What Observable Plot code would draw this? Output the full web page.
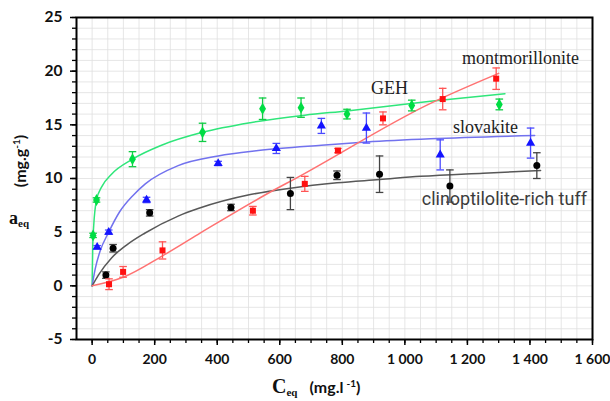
<!DOCTYPE html>
<html><head><meta charset="utf-8">
<script src="https://cdn.jsdelivr.net/npm/d3@7"></script>
<script src="https://cdn.jsdelivr.net/npm/@observablehq/plot@0.6"></script>
<style>body{margin:0;background:#fff}#chart{position:absolute;left:0;top:0}</style>
</head><body><div id="chart"></div>
<script>
// ---- data ----
const xTickValues = [0, 200, 400, 600, 800, 1000, 1200, 1400, 1600];
const yTickValues = [-5, 0, 5, 10, 15, 20, 25];

// measured points: c = Ceq (mg/l), q = aeq (mg/g), e = error bar half-length
const gehPoints = [
  {c: 3, q: 4.7, e: 0.2}, {c: 14, q: 8.0, e: 0.2}, {c: 129, q: 11.8, e: 0.7},
  {c: 353, q: 14.3, e: 0.85}, {c: 545, q: 16.5, e: 1.0}, {c: 668, q: 16.6, e: 0.9},
  {c: 815, q: 16.0, e: 0.45}, {c: 1022, q: 16.8, e: 0.5}, {c: 1302, q: 16.9, e: 0.5}
];
const slovakitePoints = [
  {c: 16, q: 3.6, e: 0.15}, {c: 53, q: 5.0, e: 0.2}, {c: 174, q: 8.0, e: 0.25},
  {c: 403, q: 11.4, e: 0.2}, {c: 589, q: 12.8, e: 0.47}, {c: 733, q: 14.9, e: 0.7},
  {c: 877, q: 14.7, e: 1.4}, {c: 1113, q: 12.2, e: 1.4}, {c: 1402, q: 13.3, e: 1.4}
];
const tuffPoints = [
  {c: 44, q: 1.0, e: 0.3}, {c: 67, q: 3.5, e: 0.35}, {c: 184, q: 6.8, e: 0.3},
  {c: 444, q: 7.3, e: 0.3}, {c: 634, q: 8.6, e: 1.5}, {c: 783, q: 10.3, e: 0.4},
  {c: 919, q: 10.4, e: 1.7}, {c: 1144, q: 9.3, e: 1.5}, {c: 1422, q: 11.2, e: 1.2}
];
const montPoints = [
  {c: 54, q: 0.15, e: 0.5}, {c: 99, q: 1.3, e: 0.5}, {c: 225, q: 3.3, e: 0.8},
  {c: 514, q: 7.0, e: 0.4}, {c: 680, q: 9.5, e: 0.7}, {c: 786, q: 12.6, e: 0.2},
  {c: 930, q: 15.6, e: 0.6}, {c: 1121, q: 17.4, e: 1.0}, {c: 1292, q: 19.3, e: 1.0}
];

// fitted curves
const gehCurve = [
  {c: 0, q: 0}, {c: 2, q: 3.8}, {c: 5, q: 5.6}, {c: 14, q: 8.0}, {c: 30, q: 9.2},
  {c: 62, q: 10.4}, {c: 129, q: 11.8}, {c: 222, q: 13.1}, {c: 353, q: 14.3},
  {c: 506, q: 15.2}, {c: 680, q: 15.9}, {c: 815, q: 16.3}, {c: 1082, q: 17.2}, {c: 1320, q: 17.9}
];
const slovakiteCurve = [
  {c: 0, q: 0}, {c: 10, q: 1.6}, {c: 25, q: 3.2}, {c: 53, q: 5.0}, {c: 88, q: 6.9},
  {c: 130, q: 8.4}, {c: 170, q: 9.5}, {c: 275, q: 11.2}, {c: 403, q: 12.1},
  {c: 531, q: 12.6}, {c: 733, q: 13.1}, {c: 877, q: 13.4}, {c: 1082, q: 13.7}, {c: 1415, q: 14.0}
];
const tuffCurve = [
  {c: 0, q: 0}, {c: 20, q: 1.0}, {c: 62, q: 2.6}, {c: 110, q: 3.8}, {c: 168, q: 4.9},
  {c: 275, q: 6.5}, {c: 339, q: 7.2}, {c: 506, q: 8.5}, {c: 634, q: 9.1}, {c: 783, q: 9.6},
  {c: 919, q: 9.9}, {c: 1050, q: 10.2}, {c: 1250, q: 10.5}, {c: 1434, q: 10.75}
];
const montCurve = [
  {c: 0, q: 0}, {c: 99, q: 0.8}, {c: 225, q: 2.8}, {c: 339, q: 4.8}, {c: 586, q: 9.0},
  {c: 644, q: 9.9}, {c: 1082, q: 17.0}, {c: 1300, q: 19.8}
];

const serifLabels = [
  {text: "montmorillonite", c: 1370, q: 21.2},
  {text: "GEH", c: 951, q: 18.4},
  {text: "slovakite", c: 1258, q: 14.8}
];
const sansLabels = [
  {text: "clinoptilolite-rich tuff", c: 1318, q: 8.1}
];

// ---- styling ----
const series = [
  {pts: gehPoints, curve: gehCurve, dot: "#00dd44", line: "#2fe67a", err: "#10cc44", symbol: "diamond", r: 3.6},
  {pts: slovakitePoints, curve: slovakiteCurve, dot: "#1414ff", line: "#7272ee", err: "#4a4aff", symbol: "triangle", r: 3.4},
  {pts: tuffPoints, curve: tuffCurve, dot: "#000000", line: "#585858", err: "#444444", symbol: "circle", r: 3.5},
  {pts: montPoints, curve: montCurve, dot: "#ff1010", line: "#ff7272", err: "#ff5555", symbol: "square", r: 3.4}
];

const cap = {draw(ctx, size) { const w = Math.sqrt(size / Math.PI); ctx.moveTo(-w, 0); ctx.lineTo(w, 0); }};
const fmtX = d => d >= 1000 ? `${Math.floor(d / 1000)} ${String(d % 1000).padStart(3, "0")}` : `${d}`;
const fmtY = d => String(d);

const marks = [
  Plot.gridX(d3.range(-50, 1601, 50), {stroke: "#e0e0e0", strokeOpacity: 1, strokeWidth: 0.8}),
  Plot.gridY(d3.range(-5, 25.1, 1), {stroke: "#e0e0e0", strokeOpacity: 1, strokeWidth: 0.8}),
  Plot.axisX(d3.range(0, 1601, 50), {tickSize: 4, tickFormat: () => "", strokeWidth: 1.3, label: null}),
  Plot.axisX(xTickValues, {tickSize: 6, tickPadding: 9, tickFormat: fmtX, fontSize: 14, fontWeight: "bold", fontFamily: "Lato", fill: "#111", strokeWidth: 1.5, label: null}),
  Plot.axisY(d3.range(-5, 25.1, 1), {tickSize: 4, tickFormat: () => "", strokeWidth: 1.3, label: null}),
  Plot.axisY(yTickValues, {tickSize: 6, tickPadding: 8, tickFormat: fmtY, fontSize: 15.5, fontWeight: "bold", fontFamily: "Lato", fill: "#111", strokeWidth: 1.5, label: null})
];

for (const s of series) {
  marks.push(Plot.line(s.curve, {x: "c", y: "q", stroke: s.line, strokeWidth: 1.5, curve: "monotone-x"}));
}
for (const s of series) {
  marks.push(
    Plot.ruleX(s.pts, {x: "c", y1: d => d.q - d.e, y2: d => d.q + d.e, stroke: s.err, strokeWidth: 1.3}),
    Plot.dot(s.pts, {x: "c", y: d => d.q + d.e, symbol: cap, r: 3.8, stroke: s.err, strokeWidth: 1.3}),
    Plot.dot(s.pts, {x: "c", y: d => d.q - d.e, symbol: cap, r: 3.8, stroke: s.err, strokeWidth: 1.3}),
    Plot.dot(s.pts, {x: "c", y: "q", symbol: s.symbol, r: s.r, fill: s.dot, stroke: "none"})
  );
}
marks.push(
  Plot.text(serifLabels, {x: "c", y: "q", text: "text", fontFamily: "Liberation Serif", fontSize: 18, fill: "#222"}),
  Plot.text(sansLabels, {x: "c", y: "q", text: "text", fontFamily: "Roboto, sans-serif", fontSize: 18, fill: "#3c3c3c"}),
  Plot.frame({stroke: "#000", strokeWidth: 2})
);

const chart = Plot.plot({
  width: 610, height: 401,
  marginLeft: 76, marginRight: 18, marginTop: 17, marginBottom: 62,
  style: {background: "#fff", overflow: "visible"},
  x: {domain: [-50, 1600]},
  y: {domain: [-5, 25]},
  marks
});

// axis titles with subscripts / superscripts
const svg = d3.select(chart);
const xt = svg.append("text").attr("x", 272).attr("y", 393).attr("text-anchor", "start").attr("fill", "#111");
xt.append("tspan").attr("font-family", "Liberation Serif").attr("font-weight", "bold").attr("font-size", 20).text("C");
xt.append("tspan").attr("font-family", "Liberation Serif").attr("font-weight", "bold").attr("font-size", 11).attr("dy", 3).text("eq");
xt.append("tspan").attr("font-family", "Lato").attr("font-weight", "bold").attr("font-size", 16).attr("dy", -3).attr("dx", 12).text("(mg.l");
xt.append("tspan").attr("font-family", "Lato").attr("font-weight", "bold").attr("font-size", 10).attr("dy", -6).attr("dx", 3).text("-1");
xt.append("tspan").attr("font-family", "Lato").attr("font-weight", "bold").attr("font-size", 16).attr("dy", 6).text(")");

const yt = svg.append("text").attr("transform", "translate(26,161) rotate(-90)").attr("text-anchor", "middle").attr("fill", "#111");
yt.append("tspan").attr("font-family", "Lato").attr("font-weight", "bold").attr("font-size", 16).text("(mg.g");
yt.append("tspan").attr("font-family", "Lato").attr("font-weight", "bold").attr("font-size", 10).attr("dy", -6).text("-1");
yt.append("tspan").attr("font-family", "Lato").attr("font-weight", "bold").attr("font-size", 16).attr("dy", 6).text(")");

const at = svg.append("text").attr("x", 9).attr("y", 224).attr("text-anchor", "start").attr("fill", "#111");
at.append("tspan").attr("font-family", "Liberation Serif").attr("font-weight", "bold").attr("font-size", 18).text("a");
at.append("tspan").attr("font-family", "Liberation Serif").attr("font-weight", "bold").attr("font-size", 11).attr("dy", 3).text("eq");

document.getElementById("chart").appendChild(chart);
</script>
</body></html>
